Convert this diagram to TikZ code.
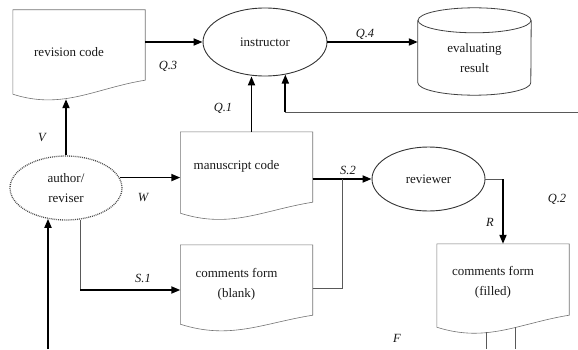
\documentclass[tikz,border=0pt]{standalone}
\usepackage{fontspec}
\setmainfont{Liberation Serif}
\usetikzlibrary{arrows.meta,shapes.geometric}

\tikzset{
  boxtext/.style={font=\fontsize{13}{20}\selectfont, align=center, inner sep=0pt, text=black!90},
  doc/.style={boxtext, minimum width=112pt},
  proc/.style={boxtext, ellipse, draw=black!80, line width=0.9pt},
  arr/.style={line width=1.8pt, -{Triangle[length=9pt,width=7pt]}},
  thinline/.style={line width=0.7pt, draw=black!65},
  docline/.style={line width=0.6pt, draw=black!55},
  flowlabel/.style={font=\fontsize{12.5}{14}\selectfont\itshape, text=black!90},
}

% document outline: node, left end shift, right end shift
\newcommand{\docshape}[3]{%
  \draw[docline] (#1.north west) -- ([xshift=20pt]#1.north east)
    -- ([xshift=20pt,yshift=#3]#1.south east)
    .. controls +(-50,-8) and +(50,-16) .. ([yshift=#2]#1.south west) -- cycle;}

\begin{document}
\begin{tikzpicture}[x=1pt,y=1pt]
    \useasboundingbox (0,0) rectangle (578,349);

    % Documents
    \node[doc, minimum height=84pt] (rev) at (69,297) {revision code};
    \node[doc, minimum height=68pt] (man) at (236.5,183) {manuscript code};
    \node[doc, minimum height=78pt] (blank) at (236.5,65) {comments form\\(blank)};
    \node[doc, minimum height=76pt] (filled) at (493,67) {comments form\\(filled)};
    \docshape{rev}{0pt}{14pt}
    \docshape{man}{-13pt}{-2pt}
    \docshape{blank}{-1pt}{8pt}
    \docshape{filled}{-7pt}{5pt}

    % Processes
    \node[proc, minimum width=124pt, minimum height=68pt] (instr) at (265,307) {instructor};
    \node[proc, minimum width=113pt, minimum height=64pt] (reviewer) at (428.5,170) {reviewer};
    \node[proc, draw=black!70, densely dotted, line width=1.3pt,
          minimum width=112pt, minimum height=64pt] (author) at (66,161) {author/\\reviser};

    % Store
    \node[boxtext, minimum width=113pt, minimum height=74.5pt] (res) at (474.5,291.25) {evaluating\\result};
    \draw[line width=0.8pt, black!75] (res.north west) -- ([yshift=12.5pt]res.south west)
        arc[start angle=180, end angle=360, x radius=56.5pt, y radius=12.5pt] -- (res.north east);
    \draw[line width=0.8pt, black!75] (res.north) ellipse [x radius=56.5pt, y radius=12.5pt];

    % Free ends
    \coordinate (qin) at (578,237);
    \coordinate (ain) at (48,0);
    \coordinate (s1) at ([yshift=-6pt]blank.west);
    \coordinate (s2) at ([xshift=20pt,yshift=-4pt]blank.east);

    % Flows
    \draw[arr] ([xshift=20pt]rev.east |- instr.west) -- (instr.west);
    \draw[arr] (instr.east) -- (instr.east -| res.west);
    \draw[arr] ([xshift=15pt]man.north) -- ([xshift=15pt]man.north |- instr.south);
    \draw[thinline] (qin) -- (qin -| instr.-58);
    \draw[arr] (qin -| instr.-58) -- (instr.-58);
    \draw[arr] (author.north) -- ([yshift=-5pt]author.north |- rev.south);
    \draw[arr] (author.11) -- (author.11 -| man.west);
    \draw[thinline] (author.294) -- (author.294 |- s1);
    \draw[arr] (author.294 |- s1) -- (s1);
    \draw[arr] (ain) -- (ain |- author.239);
    \draw[arr] ([xshift=20pt]man.east |- reviewer.west) -- (reviewer.west);
    \draw[thinline] (s2) -| ([xshift=30pt]s2 |- reviewer.west);
    \draw[thinline] (reviewer.east) -- ([xshift=10pt]filled.north |- reviewer.east);
    \draw[arr] ([xshift=10pt]filled.north |- reviewer.east) -- ([xshift=10pt]filled.north);
    \draw[thinline] ([xshift=-7pt,yshift=-12pt]filled.south) -- ([xshift=-7pt]filled.south |- ain);
    \draw[thinline] ([xshift=22pt,yshift=-7pt]filled.south) -- ([xshift=22pt]filled.south |- ain);

    % Labels
    \node[flowlabel] (lq3) at (168,283) {Q.3};
    \node[flowlabel] (lq1) at (223,241) {Q.1};
    \node[flowlabel] (lq4) at (365,315) {Q.4};
    \node[flowlabel] (lv) at (42,211) {V};
    \node[flowlabel] (lw) at (143,151) {W};
    \node[flowlabel] (ls1) at (143,71) {S.1};
    \node[flowlabel] (ls2) at (348,179) {S.2};
    \node[flowlabel] (lr) at (490,127) {R};
    \node[flowlabel] (lq2) at (557,150) {Q.2};
    \node[flowlabel] (lf) at (397,11) {F};
\end{tikzpicture}
\end{document}
